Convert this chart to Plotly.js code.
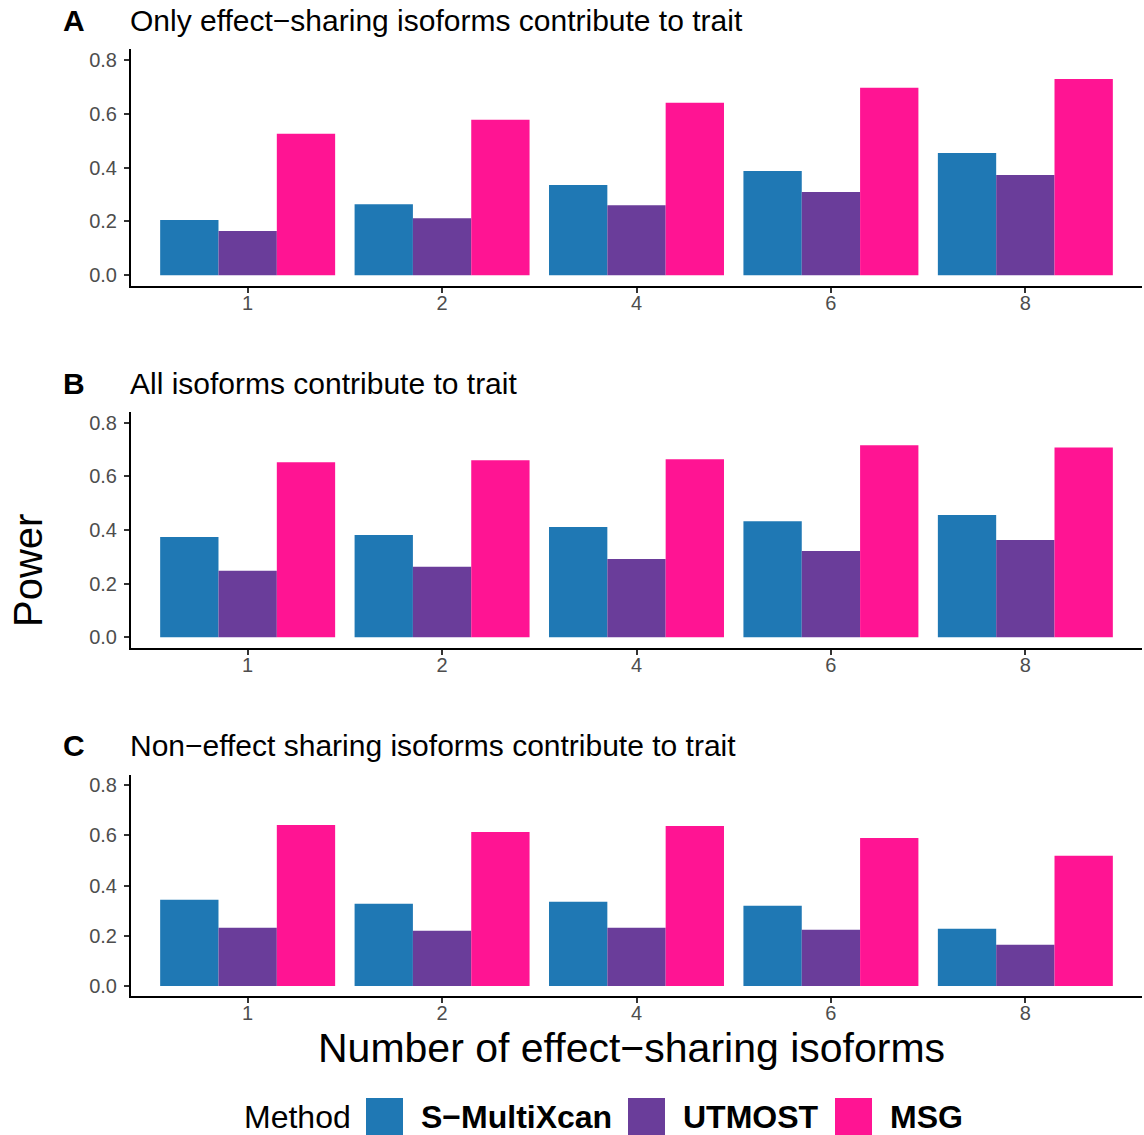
<!DOCTYPE html>
<html>
<head>
<meta charset="utf-8">
<script src="https://cdn.plot.ly/plotly-3.0.1.min.js"></script>
<style>html,body{margin:0;padding:0;background:#fff;}#chart{width:1144px;height:1135px;}</style>
</head>
<body>
<div id="chart"></div>
<script>
// ---- data ----
const categories = ["1", "2", "4", "6", "8"];
const methods = ["S\u2212MultiXcan", "UTMOST", "MSG"];
const methodColors = ["#1F78B4", "#6A3D9A", "#FF1493"];
const panelLetters = ["A", "B", "C"];
const panelTitles = [
  "Only effect\u2212sharing isoforms contribute to trait",
  "All isoforms contribute to trait",
  "Non\u2212effect sharing isoforms contribute to trait"
];
const sMultiXcanA = [0.205, 0.264, 0.335, 0.387, 0.454];
const utmostA     = [0.164, 0.212, 0.260, 0.309, 0.372];
const msgA        = [0.525, 0.577, 0.640, 0.696, 0.729];
const sMultiXcanB = [0.374, 0.381, 0.411, 0.433, 0.456];
const utmostB     = [0.248, 0.263, 0.292, 0.322, 0.363];
const msgB        = [0.653, 0.660, 0.664, 0.716, 0.708];
const sMultiXcanC = [0.343, 0.327, 0.335, 0.319, 0.228];
const utmostC     = [0.232, 0.220, 0.232, 0.224, 0.164];
const msgC        = [0.641, 0.613, 0.637, 0.589, 0.518];
const yTickVals = [0, 0.2, 0.4, 0.6, 0.8];
const yTickText = ["0.0", "0.2", "0.4", "0.6", "0.8"];
const xAxisTitle = "Number of effect\u2212sharing isoforms";
const yAxisTitle = "Power";
const legendTitle = "Method";

const panelSeries = [
  [sMultiXcanA, utmostA, msgA],
  [sMultiXcanB, utmostB, msgB],
  [sMultiXcanC, utmostC, msgC]
];

// ---- layout helpers (pixel -> paper) ----
const W = 1144, H = 1135;
const px = v => v / W;
const py = v => 1 - v / H;
const FONT = "Liberation Sans, Arial, Helvetica, sans-serif";

// panel geometry in pixels: [top, bottom]
const panelBox = [[49, 286], [412, 648], [775, 996]];
const plotLeft = 131, plotRight = 1142;
const titleY = [20, 383, 745];

const traces = [];
const layout = {
  width: W, height: H,
  margin: {l: 0, r: 0, t: 0, b: 0},
  paper_bgcolor: "#fff", plot_bgcolor: "#fff",
  showlegend: false,
  barmode: "group", bargap: 0.1, bargroupgap: 0,
  font: {family: FONT, color: "#000"},
  annotations: [], shapes: []
};

panelSeries.forEach((series, p) => {
  const sfx = p === 0 ? "" : String(p + 1);
  series.forEach((vals, m) => {
    traces.push({
      type: "bar", x: categories, y: vals, name: methods[m],
      marker: {color: methodColors[m], line: {width: 0}},
      xaxis: "x" + sfx, yaxis: "y" + sfx,
      hoverinfo: "x+y+name"
    });
  });
  const axCommon = {
    showgrid: false, zeroline: false, showline: true,
    linecolor: "#000", linewidth: 2,
    ticks: "outside", ticklen: 5, tickwidth: 2, tickcolor: "#333",
    tickfont: {family: FONT, size: 20, color: "#4D4D4D"},
    fixedrange: true
  };
  layout["xaxis" + sfx] = Object.assign({}, axCommon, {
    type: "category", range: [-0.6, 4.6],
    domain: [px(plotLeft), px(plotRight)],
    anchor: "y" + sfx, ticklabelstandoff: -7
  });
  layout["yaxis" + sfx] = Object.assign({}, axCommon, {
    range: [-0.04, 0.84], tickvals: yTickVals, ticktext: yTickText,
    domain: [py(panelBox[p][1]), py(panelBox[p][0])],
    anchor: "x" + sfx, ticklabelstandoff: 3
  });
  layout.annotations.push({
    xref: "paper", yref: "paper", x: px(61), y: py(titleY[p]),
    xanchor: "left", yanchor: "middle", showarrow: false,
    text: "<b>" + panelLetters[p] + "</b>",
    font: {family: FONT, size: 30, color: "#000"}
  });
  layout.annotations.push({
    xref: "paper", yref: "paper", x: px(128), y: py(titleY[p]),
    xanchor: "left", yanchor: "middle", showarrow: false,
    text: panelTitles[p],
    font: {family: FONT, size: 30, color: "#000"}
  });
});

// axis titles
layout.annotations.push({
  xref: "paper", yref: "paper", x: px(28), y: py(571),
  xanchor: "center", yanchor: "middle", showarrow: false, textangle: -90,
  text: yAxisTitle, font: {family: FONT, size: 40, color: "#000"}
});
layout.annotations.push({
  xref: "paper", yref: "paper", x: px(631), y: py(1048),
  xanchor: "center", yanchor: "middle", showarrow: false,
  text: xAxisTitle, font: {family: FONT, size: 41, color: "#000"}
});

// custom legend (large keys like the reference)
const legendY = 1117;
layout.annotations.push({
  xref: "paper", yref: "paper", x: px(242), y: py(legendY),
  xanchor: "left", yanchor: "middle", showarrow: false,
  text: legendTitle, font: {family: FONT, size: 32, color: "#000"}
});
const keyLeft = [366, 628, 835];
methods.forEach((m, i) => {
  layout.shapes.push({
    type: "rect", xref: "paper", yref: "paper",
    x0: px(keyLeft[i]), x1: px(keyLeft[i] + 37),
    y0: py(1135), y1: py(1098),
    fillcolor: methodColors[i], line: {width: 0}
  });
  layout.annotations.push({
    xref: "paper", yref: "paper", x: px(keyLeft[i] + 53), y: py(legendY),
    xanchor: "left", yanchor: "middle", showarrow: false,
    text: "<b>" + m + "</b>", font: {family: FONT, size: 32, color: "#000"}
  });
});

Plotly.newPlot("chart", traces, layout, {displayModeBar: false, staticPlot: true});
</script>
</body>
</html>
